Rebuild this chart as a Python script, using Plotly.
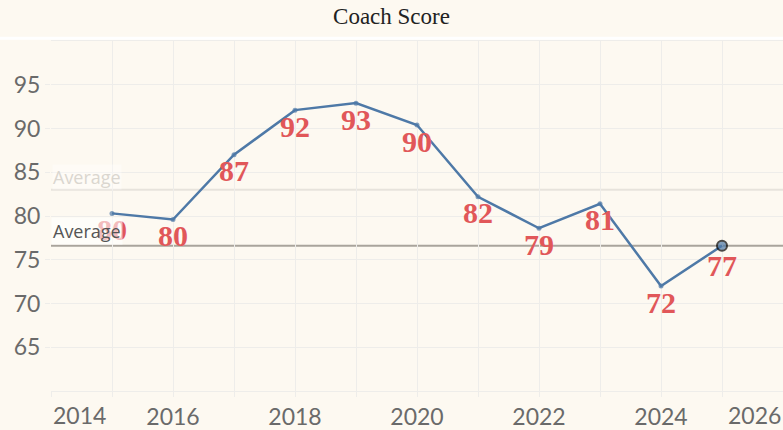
import numpy as np
import plotly.graph_objects as go

# --------------------------------------------------------------- #
#### Data ####
# --------------------------------------------------------------- #
years = [2015, 2016, 2017, 2018, 2019, 2020, 2021, 2022, 2023, 2024, 2025]
scores = [80.3, 79.6, 87.0, 92.1, 92.9, 90.4, 82.2, 78.6, 81.4, 72.0, 76.6]
labels = [str(int(round(s))) for s in scores]

avg_all = float(np.mean(scores))
avg_current = scores[-1]

x_grid = list(range(2014, 2027))
x_text = ["", "", "2016", "", "2018", "", "2020", "", "2022", "", "2024", "", ""]
y_ticks = [65, 70, 75, 80, 85, 90, 95]

bg = "#FDF9F1"
grid = "#EEEDEA"
blue = "#4E79A7"
red = "#E15759"
tick_font = dict(family="Lato", size=23, color="#6A6A6A")

fig = go.Figure()

# average lines
fig.add_hline(y=avg_all, line=dict(color="#E7E3DC", width=2), layer="below")
fig.add_hline(y=avg_current, line=dict(color="#A9A49C", width=2), layer="below")

n = len(years)
fig.add_trace(go.Scatter(
    x=years, y=scores, mode="lines+markers+text",
    line=dict(color=blue, width=2.5),
    marker=dict(size=[5] * (n - 1) + [10], color=blue,
                line=dict(color=["rgba(0,0,0,0)"] * (n - 1) + ["black"],
                          width=[0] * (n - 1) + [2])),
    text=["<b>" + t + "</b>" for t in labels], textposition="bottom center",
    textfont=dict(family="Liberation Serif", size=30, color=red),
    showlegend=False, cliponaxis=False,
))

fig.add_annotation(x=2014, y=avg_all, xref="x", yref="y", text="Average",
                   xanchor="left", yanchor="bottom", showarrow=False, xshift=1, yshift=0,
                   font=dict(family="Open Sans", size=18, color="#DAD6CF"),
                   bgcolor="rgba(255,255,255,0.35)", borderpad=0)
fig.add_annotation(x=2014, y=avg_current, xref="x", yref="y", text="Average",
                   xanchor="left", yanchor="bottom", showarrow=False, xshift=0, yshift=1,
                   font=dict(family="Open Sans", size=18, color="#555555"),
                   bgcolor="rgba(255,255,255,0.6)", borderpad=1)

# edge year labels
fig.add_annotation(x=0, y=0, xref="paper", yref="paper", text="2014", xanchor="left",
                   yanchor="top", yshift=-8, showarrow=False, font=tick_font)
fig.add_annotation(x=1, y=0, xref="paper", yref="paper", text="2026", xanchor="right",
                   yanchor="top", yshift=-8, showarrow=False, font=tick_font)

# white separator under the title
fig.add_shape(type="line", xref="paper", yref="paper", x0=-0.08, x1=1,
              y0=1.008, y1=1.008, line=dict(color="white", width=3))

fig.update_layout(
    width=783, height=430,
    margin=dict(l=51, r=0, t=41, b=39),
    paper_bgcolor=bg, plot_bgcolor=bg,
    title=dict(text="Coach Score", x=0.5, xanchor="center", y=0.963, yanchor="middle",
               font=dict(family="Liberation Serif", size=23, color="#222222")),
)
fig.update_xaxes(range=[2014, 2026], tickvals=x_grid, ticktext=x_text,
                 showgrid=True, gridcolor=grid, gridwidth=1, zeroline=False,
                 ticks="outside", ticklen=5, tickcolor=grid,
                 showline=True, linecolor=grid, mirror=True,
                 tickfont=tick_font)
fig.update_yaxes(range=[60, 100], tickvals=y_ticks,
                 showgrid=True, gridcolor=grid, gridwidth=1, zeroline=False,
                 ticks="outside", ticklen=5, tickcolor=grid,
                 tickfont=tick_font)

fig.write_html("out.html", config={"displayModeBar": False},
               post_script="document.body.style.margin='0';")
